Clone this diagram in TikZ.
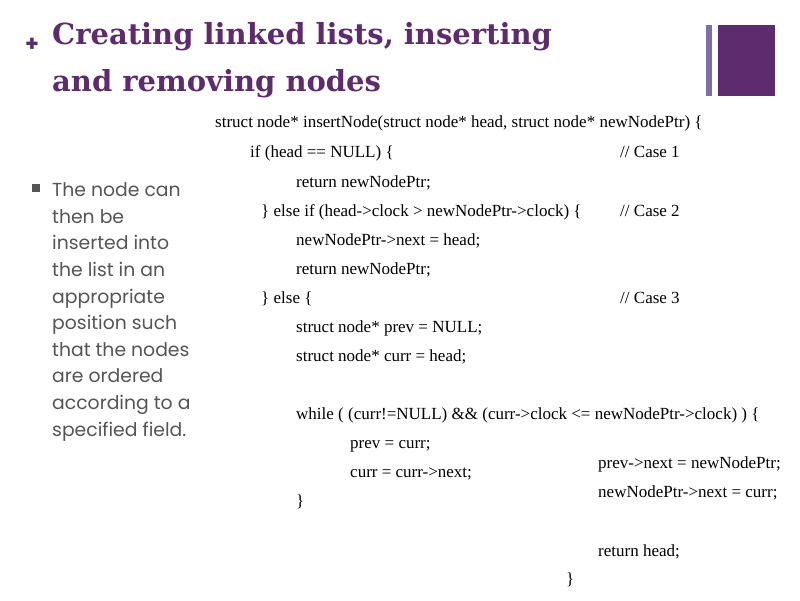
\documentclass[tikz,border=0pt]{standalone}
\usepackage{fontspec}
\setmainfont{Liberation Serif}
\setsansfont{Poppins}
\newfontfamily\ttlfont{DejaVu Serif}
\definecolor{ttl}{HTML}{5E2B6E}
\definecolor{bar}{HTML}{7A6FA6}
\definecolor{bul}{HTML}{555555}
\begin{document}
\begin{tikzpicture}[x=1pt,y=-1pt,
  code/.style={anchor=base west,inner sep=0pt,font=\fontsize{17}{18}\selectfont},
  btxt/.style={anchor=base west,inner sep=0pt,text=bul,font=\sffamily\fontsize{18.8}{22}\selectfont},
  ttlt/.style={anchor=base west,inner sep=0pt,text=ttl,font=\ttlfont\bfseries\fontsize{29}{36}\selectfont}]
\useasboundingbox (0,0) rectangle (800,600);
\fill[white] (0,0) rectangle (800,600);
\node[anchor=center,text=ttl,font=\sffamily\bfseries\fontsize{22}{24}\selectfont] (plus) at (32,45) {+};
\node[ttlt] (t1) at (52,44) {Creating linked lists, inserting};
\node[ttlt] (t2) at (52,91) {and removing nodes};
\fill[bar] (706,25) rectangle (712,96);
\fill[ttl] (718,25) rectangle (775,96);
\fill[bul] (32,184) rectangle (40,192);
\foreach \t [count=\i] in {The node can,then be,inserted into,the list in an,appropriate,position such,that the nodes,are ordered,according to a,specified field.}
  \node[btxt] (b\i) at (52,{170+26.6*\i}) {\t};
\fill[white] (203,180) rectangle (215,450);
\node[code] (c1) at (215,127) {struct node* insertNode(struct node* head, struct node* newNodePtr) \{};
\node[code] (c2) at (250,157) {if (head == NULL) \{};
\node[code] (c2b) at (620,157) {// Case 1};
\node[code] (c3) at (296,187) {return newNodePtr;};
\node[code] (c4) at (261,216) {\} else if (head->clock > newNodePtr->clock) \{};
\node[code] (c4b) at (620,216) {// Case 2};
\node[code] (c5) at (296,245) {newNodePtr->next = head;};
\node[code] (c6) at (296,274) {return newNodePtr;};
\node[code] (c7) at (261,303) {\} else \{};
\node[code] (c7b) at (620,303) {// Case 3};
\node[code] (c8) at (296,332) {struct node* prev = NULL;};
\node[code] (c9) at (296,361) {struct node* curr = head;};
\node[code] (c10) at (296,419) {while ( (curr!=NULL) \&\& (curr->clock <= newNodePtr->clock) ) \{};
\node[code] (c11) at (350,448) {prev = curr;};
\node[code] (c12) at (350,477) {curr = curr->next;};
\node[code] (c13) at (296,506) {\}};
\node[code] (d1) at (598,468) {prev->next = newNodePtr;};
\node[code] (d2) at (598,497) {newNodePtr->next = curr;};
\node[code] (d3) at (598,556) {return head;};
\node[code] (d4) at (566,584) {\}};
\end{tikzpicture}
\end{document}
